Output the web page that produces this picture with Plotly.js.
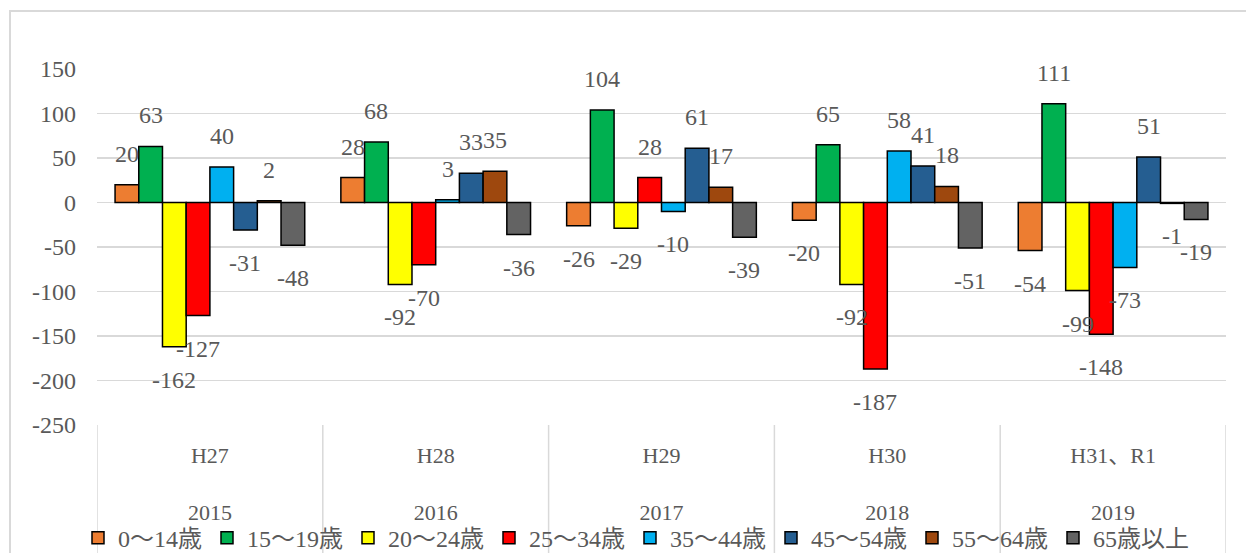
<!DOCTYPE html>
<html>
<head>
<meta charset="utf-8">
<script src="https://cdn.plot.ly/plotly-3.0.1.min.js"></script>
<style>
html,body{margin:0;padding:0;background:#fff;overflow:hidden;}
#wrap{position:relative;width:1246px;height:553px;}
#chart{position:absolute;left:0;top:0;width:1246px;height:553px;}
#frame{position:absolute;left:9px;top:10px;width:1300px;height:600px;border:2px solid #d9d9d9;box-sizing:border-box;pointer-events:none;}
</style>
</head>
<body>
<div id="wrap"><div id="chart"></div><div id="frame"></div></div>
<script>
const eraLabels = ["H27", "H28", "H29", "H30", "H31、R1"];
const yearLabels = ["2015", "2016", "2017", "2018", "2019"];
const seriesNames = ["0～14歳", "15～19歳", "20～24歳", "25～34歳", "35～44歳", "45～54歳", "55～64歳", "65歳以上"];
const age0_14  = [20, 28, -26, -20, -54];
const age15_19 = [63, 68, 104, 65, 111];
const age20_24 = [-162, -92, -29, -92, -99];
const age25_34 = [-127, -70, 28, -187, -148];
const age35_44 = [40, 3, -10, 58, -73];
const age45_54 = [-31, 33, 61, 41, 51];
const age55_64 = [2, 35, 17, 18, -1];
const age65up  = [-48, -36, -39, -51, -19];
const yTickVals = [150, 100, 50, 0, -50, -100, -150, -200, -250];
const yTickText = ["150", "100", "50", "0", "-50", "-100", "-150", "-200", "-250"];
const seriesValues = [age0_14, age15_19, age20_24, age25_34, age35_44, age45_54, age55_64, age65up];
const colors = ["#ED7D31", "#00B050", "#FFFF00", "#FF0000", "#00B0F0", "#255E91", "#9E480E", "#636363"];

const FONT = '"Liberation Serif", "Noto Sans CJK JP", serif';
const TXT = '#595959';
const GRID = '#d9d9d9';
const bargap = 0.16;

const cats = eraLabels.map((e, i) => e + '<br><br>' + yearLabels[i]);

const traces = seriesValues.map((vals, j) => ({
  type: 'bar',
  name: seriesNames[j],
  x: cats,
  y: vals,
  marker: {color: colors[j], line: {color: '#000', width: 1.5}},
  hoverinfo: 'none'
}));

const n = seriesValues.length;
const w = (1 - bargap) / n;
const annotations = [];
seriesValues.forEach((vals, j) => {
  vals.forEach((v, i) => {
    const xpos = i - 0.5 + bargap / 2 + (j + 0.5) * w;
    annotations.push({
      x: xpos, y: v, xref: 'x', yref: 'y',
      text: String(v), showarrow: false,
      xanchor: 'center',
      yanchor: v >= 0 ? 'bottom' : 'top',
      yshift: v >= 0 ? 16 : -18,
      font: {family: FONT, size: 24, color: TXT}
    });
  });
});

const shapes = [];
for (let i = 0; i <= cats.length; i++) {
  shapes.push({
    type: 'line', xref: 'x', yref: 'paper',
    x0: i - 0.5, x1: i - 0.5, y0: 0, y1: -0.36,
    line: {color: GRID, width: 1.5}
  });
}

const layout = {
  width: 1246, height: 553,
  margin: {l: 97, r: 20, t: 69, b: 128},
  paper_bgcolor: 'rgba(0,0,0,0)',
  plot_bgcolor: 'rgba(0,0,0,0)',
  barmode: 'group',
  bargap: bargap,
  bargroupgap: 0,
  showlegend: true,
  font: {family: FONT, color: TXT, size: 24},
  xaxis: {
    type: 'category',
    showgrid: false, zeroline: false, showline: false,
    ticks: '', tickfont: {family: FONT, size: 22, color: TXT},
    ticklabelstandoff: 15,
    range: [-0.5, cats.length - 0.5],
    fixedrange: true
  },
  yaxis: {
    range: [-250, 150],
    tickmode: 'array', tickvals: yTickVals, ticktext: yTickText,
    showgrid: true, gridcolor: GRID, gridwidth: 1.5,
    zeroline: true, zerolinecolor: GRID, zerolinewidth: 1.5,
    showline: false, ticks: '',
    tickfont: {family: FONT, size: 24, color: TXT},
    ticklabelstandoff: 20,
    fixedrange: true
  },
  legend: {
    orientation: 'h',
    xref: 'container', yref: 'container',
    x: 0.0626, xanchor: 'left',
    y: 0.027, yanchor: 'middle',
    font: {family: FONT, size: 24, color: TXT},
    bgcolor: 'rgba(0,0,0,0)',
    traceorder: 'normal'
  },
  annotations: annotations,
  shapes: shapes
};

Plotly.newPlot('chart', traces, layout, {staticPlot: true, displayModeBar: false});
</script>
</body>
</html>
